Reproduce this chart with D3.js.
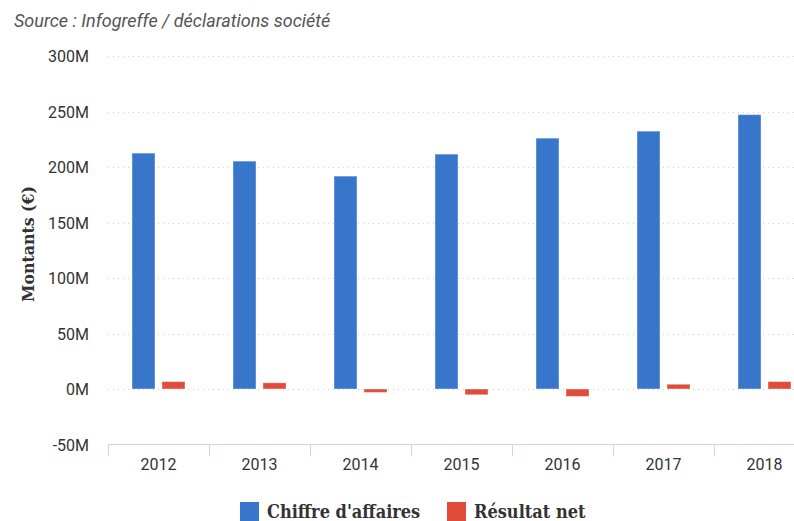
<!DOCTYPE html>
<html>
<head>
<meta charset="utf-8">
<script src="https://cdn.jsdelivr.net/npm/d3@7"></script>
<style>
    body { margin: 0; background: #fff; }
    svg { display: block; }
    .tick-label { font-family: Roboto, sans-serif; font-size: 16px; fill: #333; }
    .serif-label { font-family: "DejaVu Serif Condensed", "DejaVu Serif", serif; font-weight: bold; fill: #333; }
</style>
</head>
<body>
<div id="chart-area"></div>
<script>
const years = ["2012", "2013", "2014", "2015", "2016", "2017", "2018"];
const chiffreAffaires = [212.5, 205.3, 191.8, 211.6, 226.0, 232.3, 247.2];
const resultatNet = [6.7, 5.6, -3.1, -5.2, -6.7, 4.3, 6.7];
const yTicks = [-50, 0, 50, 100, 150, 200, 250, 300];
const seriesNames = ["Chiffre d'affaires", "Résultat net"];
const seriesColors = ["#3776cb", "#e14b3a"];

const chartSize = { width: 794, height: 521 };
const plot = { left: 108, right: 815, top: 56, bottom: 444.5 };

const main = function () {
    const svg = d3.select("#chart-area")
        .append("svg")
        .attr("width", chartSize.width)
        .attr("height", chartSize.height);

    svg.append("text")
        .text("Source : Infogreffe / déclarations société")
        .attr("x", 14)
        .attr("y", 27)
        .attr("font-family", "Roboto, sans-serif")
        .attr("font-style", "italic")
        .attr("font-size", 18)
        .attr("fill", "#555");

    const y = d3.scaleLinear()
        .domain([-50, 300])
        .range([plot.bottom, plot.top]);

    const x = d3.scaleBand()
        .domain(years)
        .range([plot.left, plot.right])
        .padding(0);

    const xSub = d3.scaleBand()
        .domain([0, 1])
        .range([0, 53])
        .paddingInner(7 / 30)
        .paddingOuter(0);

    const groupOffset = (x.bandwidth() - 53) / 2;

    // dotted grid lines
    svg.append("g")
        .selectAll("line")
        .data(yTicks.filter(t => t > -50))
        .join("line")
        .attr("x1", plot.left)
        .attr("x2", chartSize.width)
        .attr("y1", d => Math.round(y(d)) + 0.5)
        .attr("y2", d => Math.round(y(d)) + 0.5)
        .attr("stroke", "#cfcfcf")
        .attr("stroke-width", 1)
        .attr("stroke-dasharray", "1,4");

    // y axis labels
    const yAxis = d3.axisLeft(y)
        .tickValues(yTicks)
        .tickSize(0)
        .tickPadding(0)
        .tickFormat(d => d + "M");

    const yg = svg.append("g")
        .attr("transform", "translate(89,0)")
        .call(yAxis);
    yg.select(".domain").remove();
    yg.selectAll("text")
        .attr("class", "tick-label")
        .attr("dy", "0.35em");

    svg.append("text")
        .attr("class", "serif-label")
        .text("Montants (€)")
        .attr("font-size", 17.5)
        .attr("text-anchor", "middle")
        .attr("transform", "translate(34,244) rotate(-90)");

    // x axis
    const xAxis = d3.axisBottom(x)
        .tickSize(0)
        .tickPadding(0);

    const xg = svg.append("g")
        .attr("transform", `translate(0, ${plot.bottom})`)
        .call(xAxis);
    xg.select(".domain").remove();
    xg.selectAll("text")
        .attr("class", "tick-label")
        .attr("y", 14);

    svg.append("line")
        .attr("x1", plot.left)
        .attr("x2", chartSize.width)
        .attr("y1", plot.bottom)
        .attr("y2", plot.bottom)
        .attr("stroke", "#ccd6eb");

    svg.append("g")
        .selectAll("line")
        .data(years)
        .join("line")
        .attr("x1", d => Math.round(x(d)) + 0.5)
        .attr("x2", d => Math.round(x(d)) + 0.5)
        .attr("y1", plot.bottom)
        .attr("y2", plot.bottom + 12)
        .attr("stroke", "#ccd6eb");

    // bars
    const series = [chiffreAffaires, resultatNet];
    series.forEach((values, s) => {
        svg.append("g")
            .selectAll("rect")
            .data(values)
            .join("rect")
            .attr("x", (d, i) => x(years[i]) + groupOffset + xSub(s))
            .attr("width", xSub.bandwidth())
            .attr("y", d => y(Math.max(0, d)))
            .attr("height", d => Math.abs(y(d) - y(0)))
            .attr("fill", seriesColors[s])
            .attr("stroke", "#ffffff")
            .attr("stroke-opacity", 0.4)
            .attr("stroke-width", 1);
    });

    // legend
    const legendX = [240, 447];
    seriesNames.forEach((name, i) => {
        svg.append("rect")
            .attr("x", legendX[i])
            .attr("y", 502)
            .attr("width", 19)
            .attr("height", 19)
            .attr("fill", seriesColors[i]);
        svg.append("text")
            .attr("class", "serif-label")
            .text(name)
            .attr("x", legendX[i] + 27)
            .attr("y", 518)
            .attr("font-size", 18);
    });
}

window.onload = main;
</script>
</body>
</html>
